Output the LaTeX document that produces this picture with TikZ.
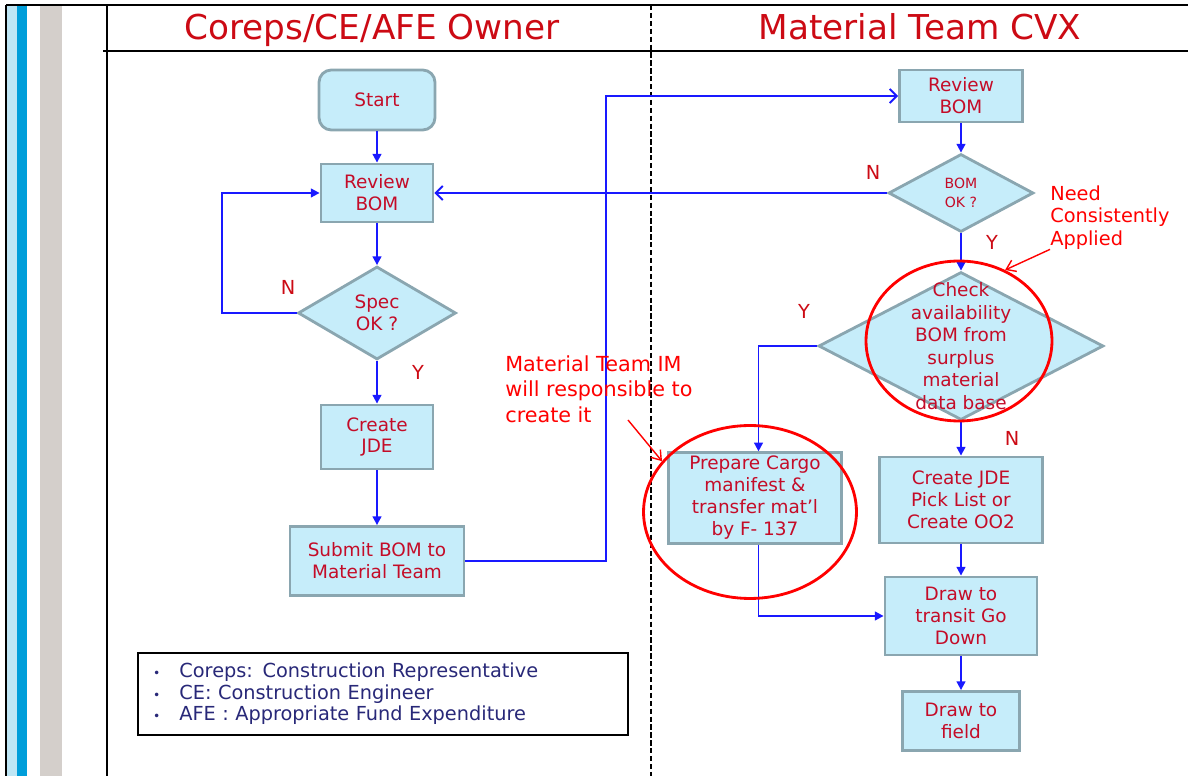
\documentclass[tikz,border=0pt]{standalone}
\usepackage{fontspec}
\setmainfont{DejaVu Sans}
\usetikzlibrary{shapes.geometric,arrows.meta}
\definecolor{boxfill}{RGB}{198,237,250}
\definecolor{boxline}{RGB}{138,166,176}
\definecolor{boxtext}{RGB}{196,12,40}
\definecolor{flowblue}{RGB}{25,25,255}
\definecolor{keytext}{RGB}{40,40,120}
\definecolor{laneblue}{RGB}{0,158,218}
\definecolor{lanepale}{RGB}{190,230,245}
\definecolor{lanegray}{RGB}{212,207,203}
\definecolor{headred}{RGB}{204,10,20}

\begin{document}
\begin{tikzpicture}[
    x=0.02cm,y=-0.02cm,
    box/.style={draw=boxline,fill=boxfill,line width=1.6pt,align=center,text=boxtext,
        font=\fontsize{10.5}{12.5}\selectfont,inner sep=2pt},
    startbox/.style={box,rounded corners=7pt},
    decision/.style={diamond,draw=boxline,fill=boxfill,line width=1.6pt,inner sep=0pt},
    qtext/.style={align=center,text=boxtext,font=\fontsize{10.5}{12.8}\selectfont},
    ring/.style={ellipse,draw=red,line width=1.6pt,inner sep=0pt},
    flow/.style={draw=flowblue,line width=1.1pt,-{Triangle[length=5pt,width=5pt]}},
    openflow/.style={draw=flowblue,line width=1.1pt,-{Straight Barb[length=4pt,width=8pt]}},
    yn/.style={text=headred,font=\fontsize{11}{13}\selectfont},
    note/.style={text=red,align=left,inner sep=0pt},
    lane/.style={font=\fontsize{19.5}{23}\selectfont,text=headred}
]
\useasboundingbox (0,0) rectangle (1188,776);

% lane frame
\fill[lanepale] (7,5) rectangle (17,776);
\fill[laneblue] (17,5) rectangle (27,776);
\fill[lanegray] (40,5) rectangle (62,776);
\draw[line width=1.5pt] (6,5) -- (1188,5);
\draw[line width=1.5pt] (6,5) -- (6,776);
\draw[line width=0.9pt] (107,5) -- (107,776);
\draw[line width=0.9pt] (103,51) -- (1188,51);
\draw[line width=0.9pt,dash pattern=on 3pt off 1.5pt] (651,5) -- (651,776);

\node[lane] (ownerhead) at (372,30) {Coreps/CE/AFE Owner};
\node[lane] (cvxhead) at (920,27) {Material Team CVX};

% owner lane
\node[startbox,minimum width=2.32cm,minimum height=1.2cm] (start) at (377,100) {Start};
\node[box,minimum width=2.24cm,minimum height=1.16cm] (review) at (377,193) {Review\\BOM};
\node[decision,minimum width=3.16cm,minimum height=1.86cm,
    label={[qtext]center:Spec\\OK ?}] (spec) at (377,313) {};
\node[box,minimum width=2.24cm,minimum height=1.28cm] (jde) at (377,437) {Create\\JDE};
\node[box,minimum width=3.48cm,minimum height=1.38cm] (submit) at (377,561) {Submit BOM to\\Material Team};

% material team lane
\node[box,minimum width=2.46cm,minimum height=1.04cm] (reviewm) at (961,96) {Review\\BOM};
\node[decision,minimum width=2.9cm,minimum height=1.56cm,
    label={[qtext,font=\fontsize{8}{11}\selectfont]center:BOM\\OK ?}] (bomok) at (961,193) {};
\node[decision,minimum width=5.7cm,minimum height=2.96cm,
    label={[qtext]center:Check\\availability\\BOM from\\surplus\\material\\data base}] (check) at (961,346) {};
\node[box,minimum width=3.26cm,minimum height=1.72cm] (pick) at (961,500) {Create JDE\\Pick List or\\Create OO2};
\node[box,minimum width=3.46cm,minimum height=1.8cm] (cargo) at (755,498) {Prepare Cargo\\manifest \&\\transfer mat’l\\by F- 137};
\node[box,minimum width=3.04cm,minimum height=1.56cm] (transit) at (961,616) {Draw to\\transit Go\\Down};
\node[box,minimum width=2.34cm,minimum height=1.18cm] (field) at (961,721) {Draw to\\field};

% connectors
\draw[flow] (start) -- (review);
\draw[flow] (review) -- (spec);
\draw[flow] (spec.west) -- ++(-75,0) |- (review.west);
\draw[flow] (spec) -- (jde);
\draw[flow] (jde) -- (submit);
\draw[openflow] (submit.east) -- ++(141,0) |- (reviewm.west);
\draw[flow] (reviewm) -- (bomok);
\draw[openflow] (bomok.west) -- (review.east);
\draw[flow] (bomok) -- (check.north);
\draw[flow] (check.west) -| ([xshift=2]cargo.north);
\draw[flow] (check.south) -- (pick);
\draw[flow] ([xshift=2]cargo.south) |- (transit.west);
\draw[flow] (pick) -- (transit);
\draw[flow] (transit) -- (field);

\node[yn] (specno) at (288,287) {N};
\node[yn] (specyes) at (418,372) {Y};
\node[yn] (bomno) at (873,172) {N};
\node[yn] (bomyes) at (992,242) {Y};
\node[yn] (checkyes) at (804,311) {Y};
\node[yn] (checkno) at (1012,438) {N};

% remarks
\node[ring,minimum width=3.72cm,minimum height=3.2cm] (checkring) at (959,341) {};
\node[ring,minimum width=4.26cm,minimum height=3.46cm] (cargoring) at (750,512) {};
\node[note,anchor=north west,font=\fontsize{11}{12.8}\selectfont] (neednote) at (1050,185) {Need\\Consistently\\Applied};
\node[note,anchor=north west,font=\fontsize{11.8}{14.6}\selectfont] (imnote) at (505,355) {Material Team IM\\will responsible to\\create it};
\coordinate (imtail) at (628,420);
\draw[red,line width=0.8pt,-{Straight Barb[length=5pt,width=7pt]}] (neednote.south west) -- (checkring.57);
\draw[red,line width=0.8pt,-{Straight Barb[length=5pt,width=7pt]}] (imtail) -- (cargoring.150);

% key
\node[draw,line width=1pt,minimum width=9.8cm,minimum height=1.64cm,text width=9.2cm,
    align=left,text=keytext,font=\fontsize{11}{12.3}\selectfont] (key) at (383,694)
    {\makebox[15pt][l]{\scriptsize\textbullet}Coreps: Construction Representative\\
     \makebox[15pt][l]{\scriptsize\textbullet}CE: Construction Engineer\\
     \makebox[15pt][l]{\scriptsize\textbullet}AFE : Appropriate Fund Expenditure};
\end{tikzpicture}
\end{document}
